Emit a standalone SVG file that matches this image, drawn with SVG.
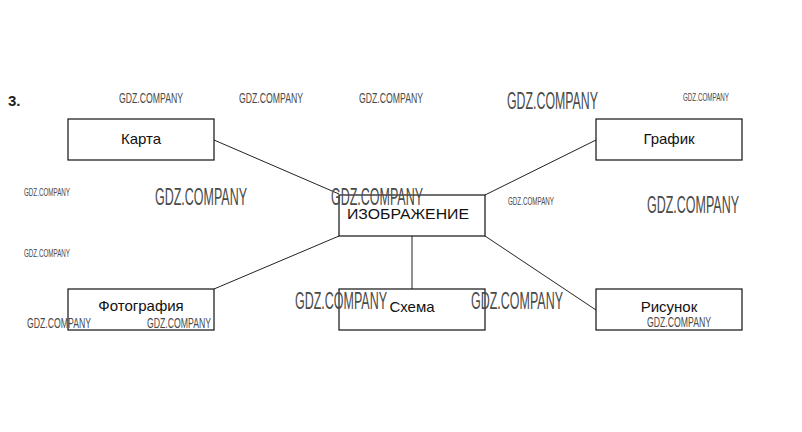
<svg xmlns="http://www.w3.org/2000/svg" width="802" height="432" viewBox="0 0 802 432">
<style>
.box{fill:#fff;stroke:#111;stroke-width:1.2}
.lbl{font-family:"Liberation Sans",Arial,sans-serif;font-size:15px;fill:#111;text-anchor:middle}
.con line{stroke:#222;stroke-width:1}
.wm{font-family:"Liberation Sans",Arial,sans-serif;fill:#4a4a4a}
.wl{font-size:23.5px}
.wmd{font-size:15px}
.ws{font-size:11px}
</style>
<rect width="802" height="432" fill="#fff"/>
<text x="8" y="106" font-family="Liberation Sans,Arial,sans-serif" font-size="15" font-weight="bold" fill="#222">3.</text>
<g class="con">
<line x1="214" y1="140" x2="339" y2="194"/>
<line x1="596" y1="140" x2="485" y2="195"/>
<line x1="214" y1="289" x2="339" y2="236"/>
<line x1="412" y1="289" x2="412" y2="236"/>
<line x1="596" y1="310" x2="485" y2="236"/>
</g>
<g id="karta"><rect class="box" x="68" y="119" width="146" height="41"/><text class="lbl" x="141" y="144">Карта</text></g>
<g id="grafik"><rect class="box" x="596" y="119" width="146" height="41"/><text class="lbl" x="669" y="144">График</text></g>
<g id="izobrazhenie"><rect class="box" x="339" y="195" width="146" height="41"/><text class="lbl" x="408" y="219" font-size="13" fill="#444" textLength="122" lengthAdjust="spacingAndGlyphs">ИЗОБРАЖЕНИЕ</text></g>
<g id="foto"><rect class="box" x="68" y="289" width="146" height="41"/><text class="lbl" x="141" y="311">Фотография</text></g>
<g id="shema"><rect class="box" x="339" y="289" width="146" height="41"/><text class="lbl" x="412" y="312">Схема</text></g>
<g id="risunok"><rect class="box" x="596" y="289" width="146" height="41"/><text class="lbl" x="669" y="312">Рисунок</text></g>
<g class="wm">
<text class="wmd" x="119" y="103" textLength="64" lengthAdjust="spacingAndGlyphs">GDZ.COMPANY</text>
<text class="wmd" x="239" y="103" textLength="64" lengthAdjust="spacingAndGlyphs">GDZ.COMPANY</text>
<text class="wmd" x="359" y="103" textLength="64" lengthAdjust="spacingAndGlyphs">GDZ.COMPANY</text>
<text class="wl" x="507" y="109" textLength="91" lengthAdjust="spacingAndGlyphs">GDZ.COMPANY</text>
<text class="ws" x="683" y="101" textLength="46" lengthAdjust="spacingAndGlyphs">GDZ.COMPANY</text>
<text class="ws" x="24" y="196" textLength="46" lengthAdjust="spacingAndGlyphs">GDZ.COMPANY</text>
<text class="wl" x="155" y="205" textLength="92" lengthAdjust="spacingAndGlyphs">GDZ.COMPANY</text>
<text class="wl" x="331" y="205" textLength="92" lengthAdjust="spacingAndGlyphs">GDZ.COMPANY</text>
<text class="ws" x="508" y="205" textLength="46" lengthAdjust="spacingAndGlyphs">GDZ.COMPANY</text>
<text class="wl" x="647" y="213" textLength="92" lengthAdjust="spacingAndGlyphs">GDZ.COMPANY</text>
<text class="ws" x="24" y="257" textLength="46" lengthAdjust="spacingAndGlyphs">GDZ.COMPANY</text>
<text class="wl" x="295" y="309" textLength="92" lengthAdjust="spacingAndGlyphs">GDZ.COMPANY</text>
<text class="wl" x="471" y="309" textLength="92" lengthAdjust="spacingAndGlyphs">GDZ.COMPANY</text>
<text class="wmd" x="27" y="328" textLength="64" lengthAdjust="spacingAndGlyphs">GDZ.COMPANY</text>
<text class="wmd" x="147" y="328" textLength="64" lengthAdjust="spacingAndGlyphs">GDZ.COMPANY</text>
<text class="wmd" x="647" y="327" textLength="64" lengthAdjust="spacingAndGlyphs">GDZ.COMPANY</text>
</g>
</svg>
